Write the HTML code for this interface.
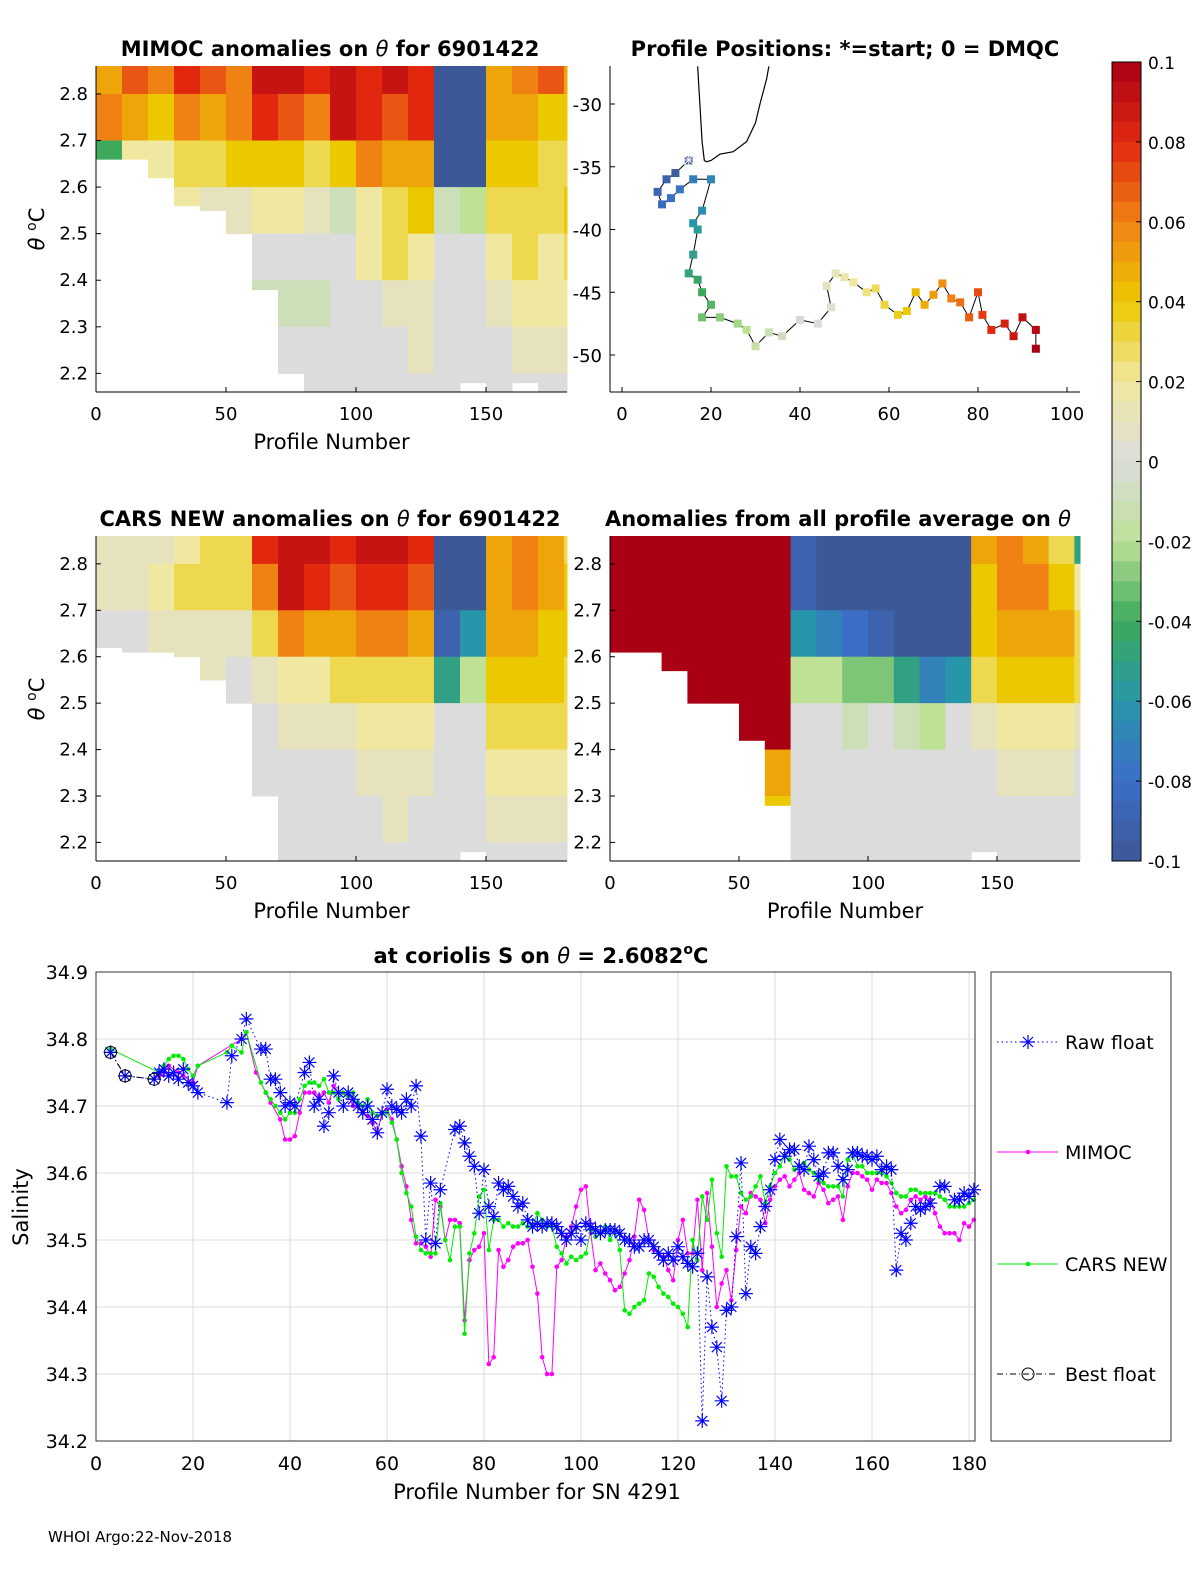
<!DOCTYPE html>
<html><head><meta charset="utf-8"><style>
body{margin:0;background:#fff;}
svg{display:block;font-family:"DejaVu Sans","Liberation Sans",sans-serif;}
</style></head><body>
<svg id="fig" width="1200" height="1575" viewBox="0 0 1200 1575" xmlns="http://www.w3.org/2000/svg">
<rect width="1200" height="1575" fill="#fff"/>
<g id="layer"></g>
<text x="48" y="1542" font-size="15">WHOI Argo:22-Nov-2018</text>
</svg>
<script>
// ===== data =====
const thetaEdges=[2.86,2.8,2.7,2.6,2.5,2.4,2.3,2.2,2.16];
const N=null;
const mimocCut=[2.66,2.66,2.62,2.56,2.55,2.5,2.38,2.2,2.16,2.16,2.16,2.16,2.16,2.16,2.18,2.16,2.18,2.16,2.16];
const mimocVals=[[5,6,-4],[7,5,2],[6,4,2,0],[8,6,3,2],[7,5,3,1],[6,6,4,1,-1],[9,8,4,2,0,-1],[9,7,4,2,0,-1,0,0],[8,6,3,1,0,-1,0,0],[9,9,4,-1,0,0,0,0],[8,8,6,2,2,0,0,0],[9,7,5,3,3,1,0,0],[8,8,5,4,2,1,1,0],[-10,-10,-10,-1,0,0,0,0],[-10,-10,-10,-2,0,0,0,0],[5,5,4,3,2,1,0,0],[6,5,4,3,3,2,1,0],[7,4,3,3,2,2,1,0],[5,4,3,4,3,2,1,0]];
const carsCut=[2.62,2.61,2.61,2.6,2.55,2.5,2.3,2.16,2.16,2.16,2.16,2.16,2.16,2.16,2.18,2.16,2.16,2.16,2.16];
const carsVals=[[1,1,0],[1,1,0],[1,2,1],[2,3,1,0],[3,3,1,1],[3,3,1,0,0],[8,6,3,1,0,0,0,0],[9,9,6,2,1,0,0,0],[9,8,5,2,1,0,0,0],[8,7,5,3,1,0,0,0],[9,8,6,3,2,1,0,0],[9,8,6,3,2,1,1,0],[8,7,5,3,2,1,0,0],[-10,-10,-9,-5,0,0,0,0],[-10,-10,-6,-2,0,0,0,0],[5,5,5,4,3,2,1,0],[6,6,5,4,3,2,1,0],[5,5,4,4,3,2,1,0],[3,4,4,3,3,2,1,0]];
const avgCut=[2.61,2.61,2.57,2.5,2.46,2.42,2.28,2.16,2.16,2.16,2.16,2.16,2.16,2.16,2.18,2.16,2.16,2.16,2.16];
const avgVals=[[10,10,10],[10,10,10],[10,10,10,10],[10,10,10,10],[10,10,10,10],[10,10,10,10,10],[10,10,10,10,10,5,4],[-9,-9,-6,-2,0,0,0,0],[-10,-10,-7,-2,0,0,0,0],[-10,-10,-8,-3,-1,0,0,0],[-10,-10,-9,-3,0,0,0,0],[-10,-10,-10,-5,-1,0,0,0],[-10,-10,-10,-7,-2,0,0,0],[-10,-10,-10,-6,0,0,0,0],[5,4,4,3,1,0,0,0],[6,6,5,4,2,1,0,0],[5,6,5,4,2,1,0,0],[3,4,5,4,2,1,0,0],[-5,2,3,3,1,0,0,0]];
const trackLon=[15,12,10,8,9,11,13,16,20,18,16,17,16,15,17,18,20,18,22,26,28,30,33,36,40,44,47,46,48,50,52,55,57,59,62,64,66,68,70,72,74,76,78,80,81,83,86,88,90,93,93];
const trackLat=[-34.5,-35.5,-36,-37,-38,-37.5,-36.8,-36,-36,-38.5,-39.5,-40,-42,-43.5,-44,-45,-46,-47,-47,-47.5,-48,-49.3,-48.2,-48.5,-47.2,-47.5,-46.2,-44.5,-43.5,-43.8,-44.2,-45,-44.7,-46,-46.8,-46.5,-45,-46,-45.2,-44.3,-45.5,-45.8,-47,-45,-46.8,-48,-47.5,-48.5,-47,-48,-49.5];
const coastLon=[17,17.5,18,18.5,19,20,22,25,28,30,31,32.5,33];
const coastLat=[-27,-30,-33,-34.5,-34.6,-34.5,-34,-33.8,-33,-31.5,-30,-28,-27];
const xTicksTheta=[0,50,100,150];
const yTicksTheta=[2.8,2.7,2.6,2.5,2.4,2.3,2.2];
const rawP=[3,6,12,13,14,15,16,17,18,19,20,21,27,28,30,31,34,35,36,37,38,39,40,41,43,44,45,46,47,48,49,50,51,52,53,54,55,56,57,58,59,60,61,62,63,64,65,66,67,68,69,70,71,74,75,76,77,78,79,80,81,82,83,84,85,86,87,88,89,90,91,92,93,94,95,96,97,98,99,100,101,102,103,104,105,106,107,108,109,110,111,112,113,114,115,116,117,118,119,120,121,122,123,124,125,126,127,128,129,130,131,132,133,134,135,136,137,138,139,140,141,142,143,144,145,146,147,148,149,150,151,152,153,154,155,156,157,158,159,160,161,162,163,164,165,166,167,168,169,170,171,172,174,175,177,178,179,180,181];
const rawS=[34.78,34.745,34.74,34.75,34.755,34.745,34.75,34.74,34.755,34.735,34.73,34.72,34.705,34.775,34.8,34.83,34.785,34.785,34.74,34.74,34.72,34.7,34.705,34.7,34.75,34.765,34.7,34.71,34.67,34.69,34.745,34.72,34.7,34.72,34.71,34.7,34.69,34.7,34.68,34.66,34.69,34.725,34.7,34.695,34.69,34.71,34.7,34.73,34.655,34.5,34.585,34.495,34.575,34.665,34.67,34.645,34.625,34.61,34.54,34.605,34.55,34.535,34.585,34.575,34.58,34.565,34.55,34.555,34.53,34.52,34.525,34.52,34.525,34.525,34.52,34.51,34.5,34.51,34.52,34.5,34.525,34.52,34.515,34.51,34.515,34.515,34.515,34.51,34.5,34.5,34.49,34.49,34.5,34.5,34.49,34.48,34.47,34.48,34.47,34.49,34.475,34.465,34.46,34.48,34.23,34.445,34.37,34.34,34.26,34.395,34.4,34.505,34.615,34.42,34.49,34.48,34.52,34.55,34.575,34.62,34.65,34.625,34.635,34.635,34.61,34.605,34.64,34.62,34.595,34.6,34.63,34.63,34.61,34.59,34.605,34.63,34.63,34.625,34.625,34.62,34.625,34.605,34.61,34.605,34.455,34.51,34.5,34.525,34.55,34.545,34.55,34.555,34.58,34.58,34.56,34.56,34.57,34.565,34.575];
const mimP=[13,14,15,17,18,20,21,30,31,33,35,36,38,39,40,41,42,43,44,45,46,47,48,49,50,52,53,54,55,56,57,58,59,60,61,62,63,64,65,66,67,68,69,70,71,72,73,74,75,76,77,78,79,80,81,82,83,84,85,86,87,88,89,90,91,92,93,94,95,96,97,98,99,100,101,102,103,104,105,106,107,108,109,110,111,112,113,114,115,116,117,118,119,120,121,122,123,124,125,126,127,128,129,130,131,132,133,134,135,136,137,138,139,140,141,142,143,144,145,146,147,148,149,150,151,152,153,154,155,156,157,158,159,160,161,162,163,164,165,166,167,168,169,170,171,172,173,174,175,176,177,178,179,180,181];
const mimS=[34.745,34.75,34.76,34.75,34.745,34.735,34.76,34.8,34.81,34.75,34.72,34.705,34.68,34.65,34.65,34.655,34.69,34.72,34.72,34.72,34.715,34.72,34.705,34.73,34.72,34.715,34.7,34.7,34.69,34.685,34.675,34.66,34.69,34.695,34.68,34.65,34.61,34.58,34.53,34.495,34.495,34.49,34.475,34.56,34.55,34.5,34.53,34.53,34.525,34.38,34.47,34.485,34.49,34.51,34.315,34.325,34.485,34.46,34.47,34.49,34.495,34.495,34.5,34.46,34.42,34.325,34.3,34.3,34.46,34.47,34.505,34.52,34.55,34.575,34.58,34.51,34.455,34.465,34.45,34.44,34.425,34.43,34.45,34.47,34.505,34.56,34.545,34.5,34.485,34.48,34.475,34.455,34.44,34.5,34.53,34.48,34.48,34.56,34.455,34.57,34.49,34.4,34.435,34.455,34.41,34.485,34.55,34.54,34.57,34.565,34.56,34.525,34.56,34.58,34.59,34.595,34.58,34.59,34.6,34.575,34.57,34.565,34.585,34.575,34.555,34.56,34.565,34.53,34.58,34.6,34.6,34.595,34.59,34.575,34.59,34.585,34.585,34.57,34.55,34.54,34.545,34.56,34.565,34.56,34.565,34.56,34.54,34.52,34.51,34.51,34.51,34.5,34.525,34.52,34.53];
const carsP=[3,13,14,15,16,17,18,19,20,21,27,28,30,31,34,35,36,37,38,39,40,41,42,43,44,45,46,47,48,49,50,51,52,53,54,55,56,57,58,59,60,61,62,63,64,65,66,67,68,69,70,71,72,73,74,75,76,77,78,79,80,81,82,83,84,85,86,87,88,89,90,91,92,93,94,95,96,97,98,99,100,101,102,103,104,105,106,107,108,109,110,111,112,113,114,115,116,117,118,119,120,121,122,123,124,125,126,127,128,129,130,131,132,133,134,135,136,137,138,139,140,141,142,143,144,145,146,147,148,149,150,151,152,153,154,155,156,157,158,159,160,161,162,163,164,165,166,167,168,169,170,171,172,173,174,175,176,177,178,179,180,181];
const carsS=[34.785,34.75,34.76,34.77,34.775,34.775,34.77,34.755,34.745,34.76,34.78,34.79,34.78,34.81,34.735,34.72,34.71,34.7,34.69,34.68,34.69,34.69,34.71,34.73,34.735,34.735,34.73,34.74,34.72,34.72,34.71,34.72,34.715,34.72,34.705,34.7,34.71,34.69,34.685,34.69,34.69,34.675,34.65,34.6,34.57,34.55,34.505,34.485,34.48,34.48,34.48,34.555,34.5,34.47,34.52,34.52,34.36,34.48,34.51,34.565,34.575,34.485,34.53,34.53,34.52,34.525,34.52,34.52,34.525,34.52,34.52,34.54,34.53,34.52,34.52,34.49,34.48,34.465,34.475,34.47,34.475,34.48,34.515,34.505,34.51,34.52,34.5,34.515,34.485,34.395,34.39,34.4,34.405,34.41,34.45,34.445,34.43,34.42,34.415,34.405,34.4,34.39,34.37,34.5,34.47,34.565,34.53,34.59,34.51,34.475,34.61,34.595,34.595,34.57,34.56,34.565,34.58,34.595,34.555,34.58,34.6,34.61,34.625,34.62,34.605,34.61,34.615,34.605,34.6,34.59,34.585,34.58,34.58,34.58,34.565,34.62,34.63,34.61,34.61,34.6,34.6,34.6,34.6,34.595,34.585,34.57,34.565,34.565,34.575,34.575,34.57,34.57,34.57,34.57,34.565,34.56,34.55,34.55,34.55,34.55,34.555,34.56];
const bestP=[3,6,12];
const bestS=[34.78,34.745,34.74];
const sXTicks=[0,20,40,60,80,100,120,140,160,180];
const sYTicks=[34.2,34.3,34.4,34.5,34.6,34.7,34.8,34.9];
const cbTicks=[0.1,0.08,0.06,0.04,0.02,0,-0.02,-0.04,-0.06,-0.08,-0.1];
const cbLabels=["0.1","0.08","0.06","0.04","0.02","0","-0.02","-0.04","-0.06","-0.08","-0.1"];

// ===== helpers =====
const NS="http://www.w3.org/2000/svg";
const layer=document.getElementById('layer');
function el(tag,attrs,parent,txt){const e=document.createElementNS(NS,tag);for(const k in attrs)e.setAttribute(k,attrs[k]);if(txt!==undefined)e.textContent=txt;(parent||layer).appendChild(e);return e;}
const stops=[[-10,[61,88,150]],[-8,[60,110,200]],[-6,[40,150,170]],[-4,[60,170,90]],[-2,[190,225,150]],[0,[220,220,220]],[2,[240,232,160]],[4,[235,200,0]],[6,[240,130,20]],[8,[225,40,15]],[10,[170,0,20]]];
function cmap(v){v=Math.max(-10,Math.min(10,v));for(let i=0;i<stops.length-1;i++){const[a,ca]=stops[i],[b,cb]=stops[i+1];if(v<=b){const t=(v-a)/(b-a);return 'rgb('+ca.map((c,j)=>Math.round(c+(cb[j]-c)*t)).join(',')+')';}}return 'rgb(170,0,20)';}

function thetaPanel(name,x0,x1,y0,y1,pxX0,pxPerProf,cut,vals,title,titleX,showXLabel){
  const g=el('g',{});
  
  
  const ty=t=>y0+(2.86-t)/(2.86-2.16)*(y1-y0);
  const tx=p=>pxX0+p*pxPerProf;
  for(let gi=0;gi<vals.length;gi++){
    for(let r=0;r<vals[gi].length;r++){
      const v=vals[gi][r]; if(v===null) continue;
      const top=thetaEdges[r], bot=Math.max(thetaEdges[r+1],cut[gi]);
      if(bot>=top) continue;
      const xa=tx(gi*10), xb=Math.min(tx(gi*10+10),x1);
      const c=el('rect',{x:xa,y:ty(top),width:xb-xa+0.5,height:ty(bot)-ty(top)+0.5,fill:cmap(v)},g);
      
      
    }
  }
  el('line',{x1:x0,y1:y0,x2:x0,y2:y1,stroke:'#000'},g);
  el('line',{x1:x0,y1:y1,x2:x1,y2:y1,stroke:'#000'},g);
  yTicksTheta.forEach(t=>{el('line',{x1:x0,y1:ty(t),x2:x0+5,y2:ty(t),stroke:'#000'},g);
    const l=el('text',{x:x0-8,y:ty(t)+6,'font-size':18,'text-anchor':'end'},g,t.toFixed(1));
    });
  xTicksTheta.forEach(p=>{el('line',{x1:tx(p),y1:y1,x2:tx(p),y2:y1-5,stroke:'#000'},g);
    const l=el('text',{x:tx(p),y:y1+28,'font-size':18,'text-anchor':'middle'},g,String(p));
    });
  if(showXLabel){const l=el('text',{x:(x0+x1)/2,y:y1+57,'font-size':21,'text-anchor':'middle'},g,'Profile Number');
    }
  const tt=el('text',{x:titleX,y:y0-10,'font-size':21,'font-weight':'bold','text-anchor':'middle'},g);
  tt.innerHTML=title;
  
}
thetaPanel('mimoc-anomaly-panel',96,567,66,392,96,2.6,mimocCut,mimocVals,'MIMOC anomalies on <tspan font-style="italic" font-weight="normal">θ</tspan>  for 6901422',330,true);
thetaPanel('cars-anomaly-panel',96,567,536,861,96,2.6,carsCut,carsVals,'CARS NEW anomalies on <tspan font-style="italic" font-weight="normal">θ</tspan> for 6901422',330,true);
thetaPanel('average-anomaly-panel',610,1080,536,861,610,2.58,avgCut,avgVals,'Anomalies from all profile average on <tspan font-style="italic" font-weight="normal">θ</tspan>',838,true);
[[229],[699]].forEach(([cy])=>{const t=el('text',{x:0,y:0,'font-size':21,'text-anchor':'middle',transform:`translate(44,${cy}) rotate(-90)`});t.innerHTML='<tspan font-style="italic">θ</tspan> <tspan font-size="14" dy="-8">o</tspan><tspan dy="8">C</tspan>';
  });

// ===== map =====
(function(){
  const g=el('g',{});
  
  
  const mx=lon=>622+lon*4.45, my=lat=>104+(-30-lat)*12.55;
  el('line',{x1:610,y1:66,x2:610,y2:392,stroke:'#000'},g);
  el('line',{x1:610,y1:392,x2:1080,y2:392,stroke:'#000'},g);
  [0,20,40,60,80,100].forEach(v=>{el('line',{x1:mx(v),y1:392,x2:mx(v),y2:387,stroke:'#000'},g);
    const l=el('text',{x:mx(v),y:420,'font-size':18,'text-anchor':'middle'},g,String(v));});
  [-30,-35,-40,-45,-50].forEach(v=>{el('line',{x1:610,y1:my(v),x2:615,y2:my(v),stroke:'#000'},g);
    const l=el('text',{x:602,y:my(v)+7,'font-size':18,'text-anchor':'end'},g,String(v));});
  const cp=el('polyline',{points:coastLon.map((v,i)=>mx(v)+','+my(coastLat[i])).join(' '),fill:'none',stroke:'#000','stroke-width':1.2},g);
  
  const tl=el('polyline',{points:trackLon.map((v,i)=>mx(v)+','+my(trackLat[i])).join(' '),fill:'none',stroke:'#000','stroke-width':1},g);
  
  trackLon.forEach((v,i)=>{const val=-10+20*i/(trackLon.length-1);
    const r=el('rect',{x:mx(v)-4,y:my(trackLat[i])-4,width:8,height:8,fill:cmap(val)},g);
    });
  const s=el('text',{x:mx(trackLon[0]),y:my(trackLat[0])+6,'font-size':18,'text-anchor':'middle',fill:'#fff'},g,'✳');
  
  const t=el('text',{x:845,y:56,'font-size':21,'font-weight':'bold','text-anchor':'middle'},g,'Profile Positions: *=start; 0 = DMQC');
  
})();

// ===== colorbar =====
(function(){
  const g=el('g',{});
  
  
  const y0=62,y1=861,n=40;
  for(let i=0;i<n;i++){el('rect',{x:1112,y:y0+i*(y1-y0)/n,width:29,height:(y1-y0)/n+0.5,fill:cmap(10-20*(i+0.5)/n)},g);}
  el('rect',{x:1112,y:y0,width:29,height:y1-y0,fill:'none',stroke:'#000'},g);
  cbTicks.forEach((v,i)=>{const y=y0+(0.1-v)/0.2*(y1-y0);
    el('line',{x1:1141,y1:y,x2:1136,y2:y,stroke:'#000'},g);
    const l=el('text',{x:1148,y:y+7,'font-size':17},g,cbLabels[i]);});
})();

// ===== salinity chart =====
(function(){
  const g=el('g',{});
  
  
  const x0=96,x1=975,y0=972,y1=1441;
  const sx=p=>96+p*4.85, sy=v=>972+(34.9-v)*670;
  sXTicks.forEach(p=>{el('line',{x1:sx(p),y1:y0,x2:sx(p),y2:y1,stroke:'#ddd'},g);
    const l=el('text',{x:sx(p),y:y1+29,'font-size':19,'text-anchor':'middle'},g,String(p));});
  sYTicks.forEach(v=>{el('line',{x1:x0,y1:sy(v),x2:x1,y2:sy(v),stroke:'#ddd'},g);
    const l=el('text',{x:x0-8,y:sy(v)+7,'font-size':19,'text-anchor':'end'},g,v.toFixed(1));});
  const pts=(P,S)=>P.map((p,i)=>sx(p)+','+sy(S[i])).join(' ');
  const m=el('polyline',{points:pts(mimP,mimS),fill:'none',stroke:'#f0f','stroke-width':1},g);
  
  mimP.forEach((p,i)=>{const c=el('circle',{cx:sx(p),cy:sy(mimS[i]),r:2.3,fill:'#f0f'},g);});
  const c2=el('polyline',{points:pts(carsP,carsS),fill:'none',stroke:'#0e0'},g);
  
  carsP.forEach((p,i)=>{const c=el('circle',{cx:sx(p),cy:sy(carsS[i]),r:2.3,fill:'#0e0'},g);});
  const r=el('polyline',{points:pts(rawP,rawS),fill:'none',stroke:'#00f','stroke-dasharray':'1.5,3'},g);
  
  function star(x,y,gg){const s=el('path',{d:`M${x-7},${y}H${x+7}M${x},${y-7}V${y+7}M${x-5},${y-5}L${x+5},${y+5}M${x-5},${y+5}L${x+5},${y-5}`,stroke:'#00f','stroke-width':1.2},gg);return s;}
  rawP.forEach((p,i)=>{const s=star(sx(p),sy(rawS[i]),g);});
  const b=el('polyline',{points:pts(bestP,bestS),fill:'none',stroke:'#000','stroke-dasharray':'6,3,1,3'},g);
  
  bestP.forEach((p,i)=>{const c=el('circle',{cx:sx(p),cy:sy(bestS[i]),r:6,fill:'none',stroke:'#000'},g);});
  el('rect',{x:x0,y:y0,width:x1-x0,height:y1-y0,fill:'none',stroke:'#333'},g);
  const t=el('text',{x:541,y:963,'font-size':21,'font-weight':'bold','text-anchor':'middle'},g);
  t.innerHTML='at coriolis S on <tspan font-style="italic" font-weight="normal">θ</tspan> = 2.6082<tspan font-size="14" dy="-9">o</tspan><tspan dy="9">C</tspan>';
  
  const xl=el('text',{x:537,y:1499,'font-size':21,'text-anchor':'middle'},g,'Profile Number for SN 4291');
  
  const yl=el('text',{x:0,y:0,'font-size':21,'text-anchor':'middle',transform:'translate(28,1207) rotate(-90)'},g,'Salinity');
  
  const lg=el('g',{},g);
  
  
  el('rect',{x:991,y:972,width:180,height:469,fill:'#fff',stroke:'#333'},lg);
  const ents=[['Raw float',1042,'#00f','1.5,3','star'],['MIMOC',1152,'#f0f','','dot'],['CARS NEW',1264,'#0e0','','dot'],['Best float',1374,'#000','6,3,1,3','circ']];
  ents.forEach(e=>{const eg=el('g',{},lg);
    
    
    el('line',{x1:997,y1:e[1],x2:1058,y2:e[1],stroke:e[2],'stroke-dasharray':e[3]},eg);
    if(e[4]==='star')star(1028,e[1],eg);
    if(e[4]==='dot')el('circle',{cx:1028,cy:e[1],r:2.3,fill:e[2]},eg);
    if(e[4]==='circ')el('circle',{cx:1028,cy:e[1],r:6,fill:'none',stroke:'#000'},eg);
    el('text',{x:1065,y:e[1]+7,'font-size':19},eg,e[0]);});
})();
</script>
</body></html>
